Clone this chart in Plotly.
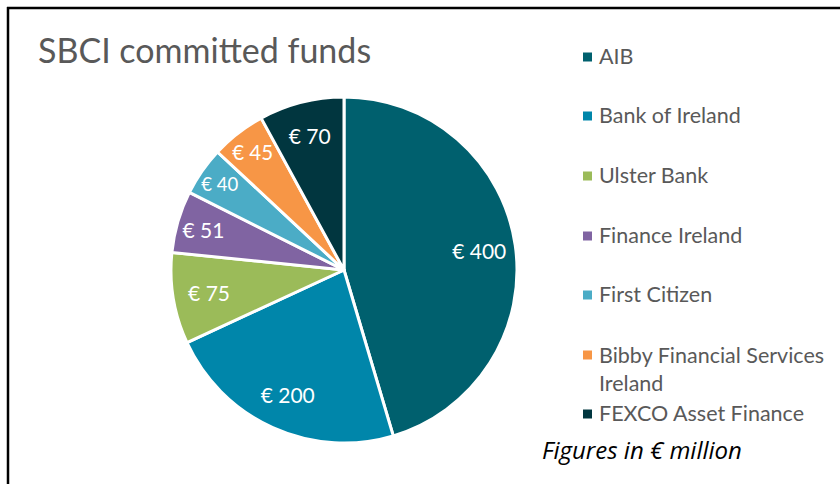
import plotly.graph_objects as go

labels = ["AIB", "Bank of Ireland", "Ulster Bank", "Finance Ireland",
          "First Citizen", "Bibby Financial Services Ireland", "FEXCO Asset Finance"]
legend_text = ["AIB", "Bank of Ireland", "Ulster Bank", "Finance Ireland",
               "First Citizen", "Bibby Financial Services<br>Ireland", "FEXCO Asset Finance"]
values = [400, 200, 75, 51, 40, 45, 70]
colors = ["#00606E", "#0086AA", "#9BBB59", "#8064A2", "#4BACC6", "#F79646", "#01363F"]

W, H = 840, 484
FONT = "Lato"

def px(x):
    return x / W

def py(y):
    return 1 - y / H

pie_domain = dict(x=[px(171), px(517)], y=[py(443), py(97)])

fig = go.Figure()
# filled slices
fig.add_trace(go.Pie(
    labels=labels,
    values=values,
    sort=False,
    direction="clockwise",
    rotation=0,
    marker=dict(colors=colors, line=dict(color="white", width=3)),
    textinfo="none",
    domain=pie_domain,
    showlegend=False,
    hoverinfo="label+value",
))
# transparent ring carrying the data labels near the outer edge
fig.add_trace(go.Pie(
    labels=labels,
    values=values,
    sort=False,
    direction="clockwise",
    rotation=0,
    hole=0.58,
    marker=dict(colors=["rgba(0,0,0,0)"] * len(values), line=dict(width=0)),
    texttemplate="€ %{value}",
    textposition="inside",
    insidetextorientation="horizontal",
    textfont=dict(family=FONT, size=21, color="white"),
    domain=pie_domain,
    showlegend=False,
    hoverinfo="skip",
))

shapes = [
    dict(type="line", xref="paper", yref="paper", x0=px(7), x1=1, y0=py(8), y1=py(8),
         line=dict(color="black", width=2.5)),
    dict(type="line", xref="paper", yref="paper", x0=px(8), x1=px(8), y0=py(7), y1=0,
         line=dict(color="black", width=2.5)),
]
annotations = [
    dict(text="SBCI committed funds", x=px(36), y=py(50), xref="paper", yref="paper",
         xanchor="left", yanchor="middle", showarrow=False,
         font=dict(family=FONT, size=34, color="#595959")),
    dict(text="<i>Figures in € million</i>", x=px(540), y=py(449), xref="paper", yref="paper",
         xanchor="left", yanchor="middle", showarrow=False,
         font=dict(family="Open Sans", size=24, color="black")),
]
legend_y = [56, 115, 175, 235, 294, 354, 413]
for i, lab in enumerate(legend_text):
    yc = legend_y[i]
    shapes.append(dict(type="rect", xref="paper", yref="paper",
                       x0=px(583), x1=px(592), y0=py(yc - 4.5 + 1), y1=py(yc + 4.5 + 1),
                       fillcolor=colors[i], line=dict(width=0)))
    multi = "<br>" in lab
    annotations.append(dict(text=lab, x=px(597), y=py(yc), xref="paper", yref="paper",
                            xanchor="left", yanchor="top" if multi else "middle",
                            yshift=14 if multi else 0,
                            align="left", showarrow=False,
                            font=dict(family=FONT, size=21.5, color="#595959")))

fig.update_layout(
    width=W, height=H,
    margin=dict(l=0, r=0, t=0, b=0),
    paper_bgcolor="white",
    plot_bgcolor="white",
    shapes=shapes,
    annotations=annotations,
)
fig.write_html("out.html", config={"displayModeBar": False},
               post_script="document.body.style.margin='0';")
